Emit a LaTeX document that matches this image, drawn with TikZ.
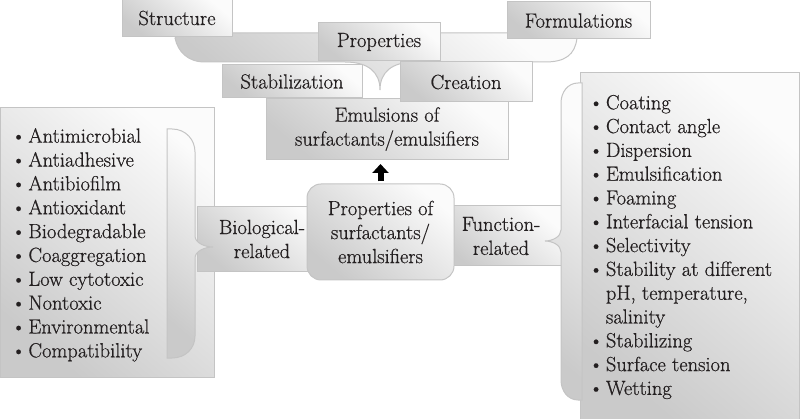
\documentclass[tikz,border=0pt]{standalone}
\usepackage{fontspec}
\newfontfamily\diagfont{Latin Modern Roman}[FakeBold=0.6]
\usetikzlibrary{arrows.meta}
\definecolor{edge}{HTML}{C4C4C4}
\definecolor{ink}{HTML}{231F20}
\definecolor{shadeA}{HTML}{CACACA}
\definecolor{shadeB}{HTML}{FBFBFB}
\newcommand\mybul{\textbullet\kern2.5pt}
\newcommand\myind{\hphantom{\textbullet\kern2.5pt}}
\begin{document}
\begin{tikzpicture}[x=1pt,y=-1pt,
  every node/.style={text=ink, font=\diagfont\fontsize{20.5}{24}\selectfont},
  panel/.style={draw=edge, line width=1pt, top color=shadeB, bottom color=shadeA, shading angle=-40},
  box/.style={panel, inner sep=0pt, align=center},
  item/.style={anchor=base west, inner sep=0pt},
  bigarrow/.style={line width=6pt, -{Triangle[width=16pt,length=9pt]}, black}]
\useasboundingbox (0,0) rectangle (800,419);

% top brace band
\path[panel] (180,33) -- (570,33) -- (577,38) .. controls (575,55) and (565,62) .. (545,62)
  -- (415,62) .. controls (392,62) and (380,72) .. (380,90)
  .. controls (380,72) and (368,62) .. (345,62)
  -- (205,62) .. controls (188,62) and (178,52) .. (175,38) -- cycle;

\node[box, minimum width=110pt, minimum height=38pt] (structure) at (177,18) {Structure};
\node[box, minimum width=143pt, minimum height=37pt] (formul) at (578.5,20.5) {Formulations};
\node[box, minimum width=122pt, minimum height=38pt] (props) at (379,42) {Properties};

\node[box, minimum width=242pt, minimum height=61pt] (emul) at (387,129) {Emulsions of\\surfactants/emulsifiers};
\node[box, minimum width=140pt, minimum height=33pt] (stab) at (292,81.5) {Stabilization};
\node[box, minimum width=132pt, minimum height=40pt] (creat) at (466,82) {Creation};

% left panel
\node[panel, minimum width=214pt, minimum height=269pt, inner sep=0pt] (leftbox) at (107.5,242.5) {};
\node[box, minimum width=130pt, minimum height=65pt] (bio) at (262,239) {Biological-\\related};
\path[panel] (167,129) -- (172,129) .. controls (186,129) and (195,140) .. (195,152)
  -- (195,236) .. controls (195,243) and (205,247) .. (213,247)
  .. controls (205,247) and (195,251) .. (195,258)
  -- (195,336) .. controls (195,348) and (186,358) .. (172,358) -- (167,358) -- cycle;

% right panel
\node[panel, minimum width=219pt, minimum height=348pt, inner sep=0pt] (rightbox) at (689.5,247) {};
\node[box, minimum width=120pt, minimum height=60pt] (func) at (501,236) {Function-\\related};
\path[panel] (582,83) -- (578,83) .. controls (568,83) and (561,92) .. (561,103)
  -- (561,230) .. controls (561,237) and (552,241) .. (545,241)
  .. controls (552,241) and (561,245) .. (561,252)
  -- (561,380) .. controls (561,391) and (568,400) .. (578,400) -- (582,400) -- cycle;

% central node
\node[box, rounded corners=14pt, minimum width=147pt, minimum height=96pt] (propof) at (380.5,232) {Properties of\\surfactants/\\emulsifiers};

\draw[bigarrow, shorten >=4pt, shorten <=2pt] (propof.north) -- (propof.north |- emul.south);

% lists
\foreach \t [count=\i from 0] in {Antimicrobial, Antiadhesive, Antibiofilm, Antioxidant, Biodegradable, Coaggregation, Low cytotoxic, Nontoxic, Environmental, Compatibility}
  \node[item] (bio\i) at (11,{142.7+23.85*\i}) {\mybul\t};

\foreach \t [count=\i from 0] in {\mybul Coating, \mybul Contact angle, \mybul Dispersion, \mybul Emulsification, \mybul Foaming, \mybul Interfacial tension, \mybul Selectivity, \mybul Stability at different, {\myind pH, temperature,}, \myind salinity, \mybul Stabilizing, \mybul Surface tension, \mybul Wetting}
  \node[item] (fun\i) at (588.5,{109.3+23.8*\i}) {\t};
\end{tikzpicture}
\end{document}
